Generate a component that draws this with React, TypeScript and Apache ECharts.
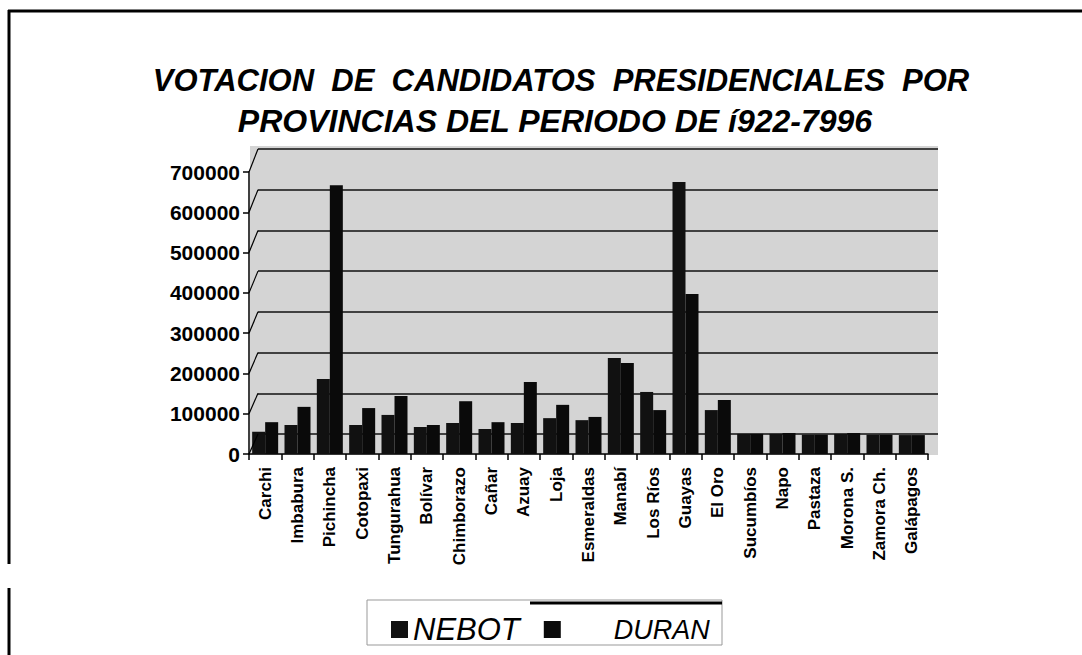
import React, { useEffect, useRef } from "react";
import * as echarts from "echarts";

const titleLine1 = "VOTACION  DE  CANDIDATOS  PRESIDENCIALES  POR";
const titleLine2 = "PROVINCIAS DEL PERIODO DE í922-7996";

const provinces = [
  "Carchi", "Imbabura", "Pichincha", "Cotopaxi", "Tungurahua", "Bolívar",
  "Chimborazo", "Cañar", "Azuay", "Loja", "Esmeraldas", "Manabí", "Los Ríos",
  "Guayas", "El Oro", "Sucumbíos", "Napo", "Pastaza", "Morona S.",
  "Zamora Ch.", "Galápagos",
];

const nebot = [
  55000, 72000, 186000, 72000, 97000, 67000, 77000, 62000, 77000, 89000,
  84000, 238000, 154000, 675000, 109000, 50000, 50000, 48000, 50000, 48000, 47000,
];

const duran = [
  79000, 117000, 667000, 114000, 144000, 72000, 131000, 79000, 179000, 122000,
  92000, 226000, 109000, 397000, 134000, 50000, 52000, 48000, 52000, 48000, 47000,
];

const yTicks = [0, 100000, 200000, 300000, 400000, 500000, 600000, 700000];

const FONT = "Liberation Sans, Arial, sans-serif";

export default function App() {
  const ref = useRef<HTMLDivElement>(null);

  useEffect(() => {
    document.body.style.margin = "0";
    const chart = echarts.init(ref.current!, null, { renderer: "svg" });
    const option: any = {
      animation: false,
      backgroundColor: "#ffffff",
      title: [
        {
          text: titleLine1,
          left: 556,
          textAlign: "center",
          top: 60,
          textStyle: { fontSize: 31, fontWeight: "bold", fontStyle: "italic", fontFamily: FONT, color: "#000" },
        },
        {
          text: titleLine2,
          left: 550,
          textAlign: "center",
          top: 100,
          textStyle: { fontSize: 32, fontWeight: "bold", fontStyle: "italic", fontFamily: FONT, color: "#000" },
        },
      ],
      legend: {
        data: ["NEBOT", "DURAN"],
        left: 386,
        top: 609,
        itemWidth: 17,
        itemHeight: 17,
        itemGap: 24,
        icon: "rect",
        formatter: (n: string) => (n === "DURAN" ? "{p|DURAN}" : "{q|NEBOT}"),
        textStyle: {
          color: "#000",
          fontFamily: FONT,
          rich: {
            q: { fontSize: 31, fontStyle: "italic", fontFamily: FONT, color: "#000" },
            p: { fontSize: 27, fontStyle: "italic", fontFamily: FONT, color: "#000", padding: [0, 0, 0, 48] },
          },
        },
      },
      grid: [
        { left: 249, top: 172, width: 679, height: 282, containLabel: false },
        { left: 258, top: 149, width: 680, height: 285, containLabel: false },
        { left: 250, top: 146, width: 688, height: 309, show: true, borderWidth: 0, backgroundColor: "#d4d4d4" },
      ],
      xAxis: [
        {
          type: "category",
          gridIndex: 0,
          data: provinces,
          axisLine: { lineStyle: { color: "#000", width: 1.5 } },
          axisTick: { show: true, length: 6, lineStyle: { color: "#000", width: 1.5 } },
          axisLabel: {
            interval: 0,
            rotate: 90,
            margin: 13,
            fontSize: 17,
            fontWeight: "bold",
            fontFamily: FONT,
            color: "#000",
          },
        },
        { type: "value", gridIndex: 1, show: false, min: 0, max: 1 },
        { type: "value", gridIndex: 2, show: false, min: 0, max: 1 },
      ],
      yAxis: [
        {
          type: "value",
          gridIndex: 0,
          min: 0,
          max: 700000,
          interval: 100000,
          splitLine: { show: false },
          axisLine: { show: true, lineStyle: { color: "#000", width: 1.5 } },
          axisTick: { show: true, length: 6, lineStyle: { color: "#000", width: 1.5 } },
          axisLabel: {
            margin: 9,
            fontSize: 21,
            fontWeight: "bold",
            fontFamily: FONT,
            color: "#000",
            formatter: (v: number) => String(v),
          },
        },
        {
          type: "value",
          gridIndex: 1,
          min: 0,
          max: 700000,
          interval: 100000,
          axisLine: { show: false },
          axisTick: { show: false },
          axisLabel: { show: false },
          splitLine: { show: true, lineStyle: { color: "#111", width: 1.5 } },
        },
        { type: "value", gridIndex: 2, show: false, min: 0, max: 1 },
      ],
      series: [
        {
          name: "NEBOT",
          type: "bar",
          xAxisIndex: 0,
          yAxisIndex: 0,
          data: nebot,
          barWidth: 13,
          barGap: "0%",
          itemStyle: { color: "#111111" },
        },
        {
          name: "DURAN",
          type: "bar",
          xAxisIndex: 0,
          yAxisIndex: 0,
          data: duran,
          barWidth: 13,
          barGap: "0%",
          itemStyle: { color: "#0a0a0a" },
        },
      ],
    };
    chart.setOption(option);

    // decorations: side-wall slanted tick lines, frame and legend box
    const slants = yTicks.map((v) => {
      const yf = chart.convertToPixel({ yAxisIndex: 0 } as any, v) as number;
      const yb = chart.convertToPixel({ yAxisIndex: 1 } as any, v) as number;
      return {
        type: "line",
        shape: { x1: 249, y1: yf, x2: 258, y2: yb },
        style: { stroke: "#000", lineWidth: 1.2 },
        z: 5,
      };
    });
    chart.setOption({
      graphic: [
        ...slants,
        { type: "line", shape: { x1: 8, y1: 11, x2: 1082, y2: 11 }, style: { stroke: "#000", lineWidth: 3 } },
        { type: "line", shape: { x1: 9, y1: 10, x2: 9, y2: 564 }, style: { stroke: "#000", lineWidth: 3 } },
        { type: "line", shape: { x1: 9, y1: 588, x2: 9, y2: 655 }, style: { stroke: "#000", lineWidth: 3 } },
        { type: "rect", shape: { x: 367, y: 600, width: 355, height: 45 }, style: { fill: "none", stroke: "#999", lineWidth: 1 } },
        { type: "line", shape: { x1: 530, y1: 603, x2: 722, y2: 603 }, style: { stroke: "#000", lineWidth: 3 } },
      ],
    });

    return () => chart.dispose();
  }, []);

  return <div ref={ref} style={{ width: 1082, height: 655 }} />;
}
